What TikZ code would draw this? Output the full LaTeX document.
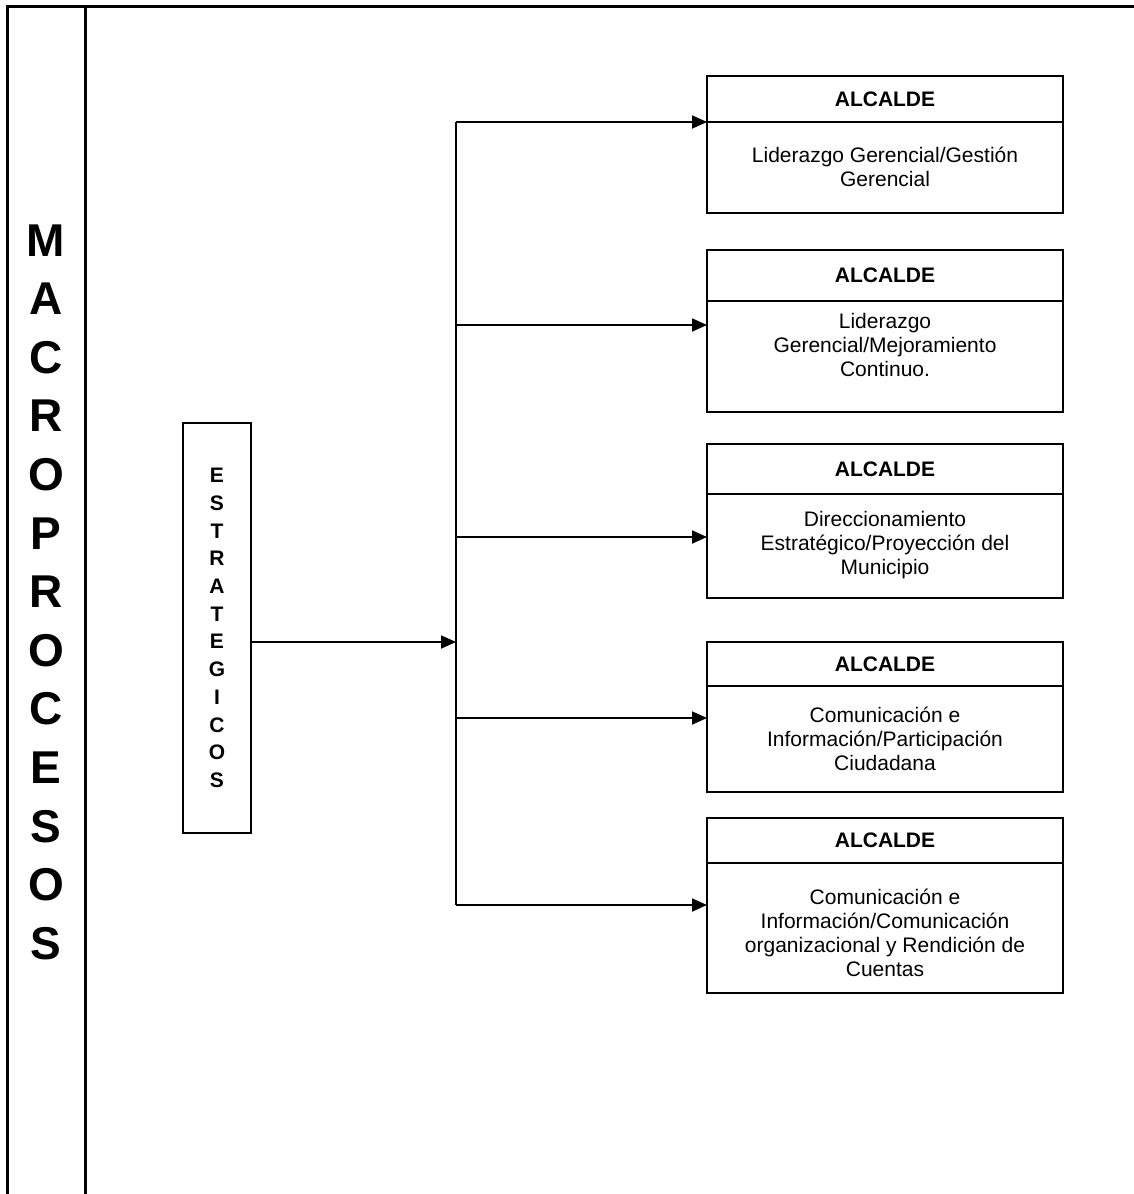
\documentclass[tikz,border=0pt]{standalone}
\usepackage{fontspec}
\setmainfont{Liberation Sans}
\usetikzlibrary{arrows.meta,calc}
\tikzset{
	frame/.style={line width=3pt},
	wire/.style={line width=1.8pt},
	link/.style={line width=1.8pt, -{Triangle[length=15pt,width=13pt]}},
	hdrbox/.style={draw, line width=2pt, minimum width=356pt, inner sep=0pt, outer sep=0pt, font=\bfseries\fontsize{21}{24}\selectfont},
	bodybox/.style={draw, line width=2pt, minimum width=356pt, inner sep=0pt, outer sep=0pt, anchor=north},
	bodytxt/.style={align=center, inner sep=0pt, font=\fontsize{21}{24}\selectfont},
}

\begin{document}
\begin{tikzpicture}[x=1pt, y=-1pt]
			%%%%% START %%%%%
			\useasboundingbox (0,0) rectangle (1134,1194);
			
			% outer frame
			\draw[frame] (7,1194) -- (7,6) -- (1134,6);
			\draw[frame] (85,6) -- (85,1194);
			
			\node[font=\bfseries\fontsize{46}{58.6}\selectfont, align=center, inner sep=0pt] (macro) at (46,592)
				{M\\A\\C\\R\\O\\P\\R\\O\\C\\E\\S\\O\\S};
			
			\node[draw, line width=2pt, outer sep=0pt, minimum width=68pt, minimum height=410pt, inner sep=0pt, align=center,
				font=\bfseries\fontsize{21}{27.7}\selectfont] (estr) at (217,628)
				{E\\S\\T\\R\\A\\T\\E\\G\\I\\C\\O\\S};
			
			% boxes
			\node[hdrbox, minimum height=46pt] (h1) at (885,99) {ALCALDE};
			\node[bodybox, minimum height=91pt] (b1) at (h1.south) {};
			\node[bodytxt] (l1) at (885,167) {Liderazgo Gerencial/Gestión\\Gerencial};
			
			\node[hdrbox, minimum height=51pt] (h2) at (885,275.5) {ALCALDE};
			\node[bodybox, minimum height=111pt] (b2) at (h2.south) {};
			\node[bodytxt] (l2) at (885,345) {Liderazgo\\Gerencial/Mejoramiento\\Continuo.};
			
			\node[hdrbox, minimum height=50pt] (h3) at (885,469) {ALCALDE};
			\node[bodybox, minimum height=104pt] (b3) at (h3.south) {};
			\node[bodytxt] (l3) at (885,545) {Direccionamiento\\Estratégico/Proyección del\\Municipio};
			
			\node[hdrbox, minimum height=44pt] (h4) at (885,664) {ALCALDE};
			\node[bodybox, minimum height=106pt] (b4) at (h4.south) {};
			\node[bodytxt] (l4) at (885,739) {Comunicación e\\Información/Participación\\Ciudadana};
			
			\node[hdrbox, minimum height=45pt] (h5) at (885,840.5) {ALCALDE};
			\node[bodybox, minimum height=130pt] (b5) at (h5.south) {};
			\node[bodytxt] (l5) at (885,933) {Comunicación e\\Información/Comunicación\\organizacional y Rendición de\\Cuentas};
			
			% connectors
			\coordinate (tm) at (456,642);
			\coordinate (t1) at (456,122);
			\coordinate (t2) at (456,325);
			\coordinate (t3) at (456,537);
			\coordinate (t4) at (456,718);
			\coordinate (t5) at (456,905);
			
			\draw[link] (estr.east |- tm) -- (tm);
			\draw[wire] (t1) -- (t5);
			\draw[link] (t1) -- (t1 -| b1.west);
			\draw[link] (t2) -- (t2 -| b2.west);
			\draw[link] (t3) -- (t3 -| b3.west);
			\draw[link] (t4) -- (t4 -| b4.west);
			\draw[link] (t5) -- (t5 -| b5.west);
			
			%%%%% END %%%%%
\end{tikzpicture}
\end{document}
